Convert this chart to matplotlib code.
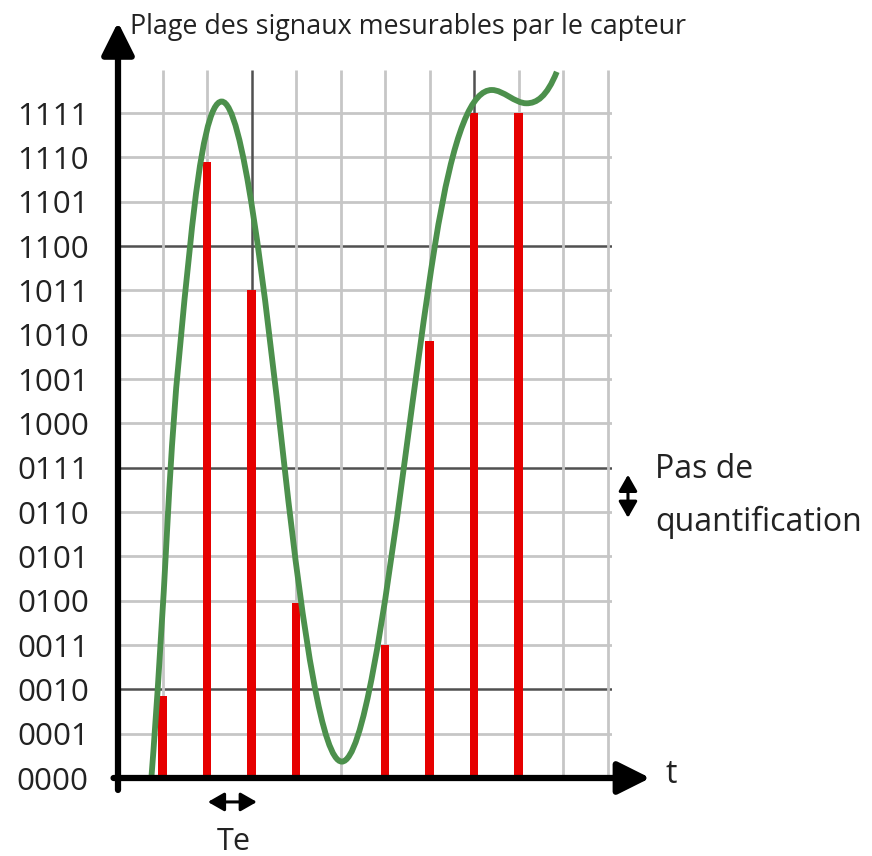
import matplotlib
matplotlib.use("Agg")
import matplotlib.pyplot as plt
from matplotlib.path import Path
from matplotlib.patches import PathPatch

plt.rcParams['font.family'] = ['Open Sans', 'DejaVu Sans']

# ---- data ----
levels = list(range(16))
level_labels = [format(i, '04b') for i in levels]
dark_levels = [2, 7, 12]
grid_cols = list(range(1, 12))
dark_cols = [3, 8]

sample_times = [1, 2, 3, 4, 6, 7, 8, 9]
sample_values = [1.85, 13.9, 11.0, 3.95, 3.0, 9.85, 15.0, 15.0]

# analog signal: key points (time, level) and local slopes
knot_t = [0.75, 1.12, 1.62, 2.33, 3.75, 5.03, 6.45, 7.12, 8.40, 9.18, 9.86]
knot_v = [0.00, 5.90, 12.0, 15.26, 6.95, 0.37, 7.20, 12.0, 15.52, 15.22, 15.93]
knot_s = [13.0, 19.0, 10.0, 0.0, -9.0, 0.0, 7.5, 6.3, 0.0, 0.0, 2.5]

W, H = 872, 856
fig = plt.figure(figsize=(W / 100, H / 100), dpi=100)
x0, x1 = 118, 612
y0, y1 = 778, 70
ax = fig.add_axes([x0 / W, (H - y0) / H, (x1 - x0) / W, (y0 - y1) / H])
xmax = (x1 - x0) / 44.5
ytop = (y0 - y1) / 44.33
ax.set_xlim(0, xmax)
ax.set_ylim(0, ytop)

light = '#c6c6c6'
dark = '#505050'
for lv in levels[1:]:
    ax.hlines(lv, 0, xmax, colors=dark if lv in dark_levels else light,
              lw=1.8 if lv in dark_levels else 2.0, zorder=1)
for c in grid_cols:
    ax.vlines(c, 0, ytop, colors=dark if c in dark_cols else light,
              lw=1.8 if c in dark_cols else 2.0, zorder=1.5 if c in dark_cols else 1)

ax.bar(sample_times, sample_values, width=0.18, color='#e60000', zorder=3)

# smooth curve through the knots (cubic Bezier segments)
verts = [(knot_t[0], knot_v[0])]
codes = [Path.MOVETO]
for i in range(len(knot_t) - 1):
    h = knot_t[i + 1] - knot_t[i]
    verts += [(knot_t[i] + h / 3, knot_v[i] + knot_s[i] * h / 3),
              (knot_t[i + 1] - h / 3, knot_v[i + 1] - knot_s[i + 1] * h / 3),
              (knot_t[i + 1], knot_v[i + 1])]
    codes += [Path.CURVE4] * 3
ax.add_patch(PathPatch(Path(verts, codes), facecolor='none', edgecolor='#4c904c',
                       lw=4.2, capstyle='butt', zorder=4, clip_on=False))

for s in ax.spines.values():
    s.set_visible(False)
ax.set_xticks([])
ax.set_yticks(levels)
ax.set_yticklabels(level_labels, fontsize=22.5, color='#222222')
ax.tick_params(axis='y', length=0, pad=21)

# axes arrows
arrow = dict(arrowstyle='-|>,head_length=0.9,head_width=0.45', lw=4.5, color='black',
             mutation_scale=22, shrinkA=0, shrinkB=0)
ax.annotate('', xy=(0, 17.05), xytext=(0, -0.27), arrowprops=arrow, annotation_clip=False, zorder=6)
ax.annotate('', xy=(11.96, 0), xytext=(-0.1, 0), arrowprops=arrow, annotation_clip=False, zorder=6)

ax.text(0.27, 16.93, 'Plage des signaux mesurables par le capteur', fontsize=19.4,
        color='#222222', ha='left', va='center', clip_on=False)
ax.text(12.3, 0.07, 't', fontsize=23, color='#222222', ha='left', va='center', clip_on=False)

dbl = dict(arrowstyle='<|-|>,head_length=0.7,head_width=0.4', lw=2.2, color='black',
           mutation_scale=14, shrinkA=0, shrinkB=0)
ax.annotate('', xy=(2.02, -0.54), xytext=(3.12, -0.54), arrowprops=dbl, annotation_clip=False)
ax.text(2.6, -1.45, 'Te', fontsize=22, color='#222222', ha='center', va='center', clip_on=False)

ax.annotate('', xy=(11.46, 6.84), xytext=(11.46, 5.87), arrowprops=dbl, annotation_clip=False)
ax.text(12.07, 6.95, 'Pas de', fontsize=23, color='#222222', ha='left', va='center', clip_on=False)
ax.text(12.07, 5.77, 'quantification', fontsize=23, color='#222222', ha='left', va='center',
        clip_on=False)

fig.savefig('out.png', dpi=100, facecolor='white')
